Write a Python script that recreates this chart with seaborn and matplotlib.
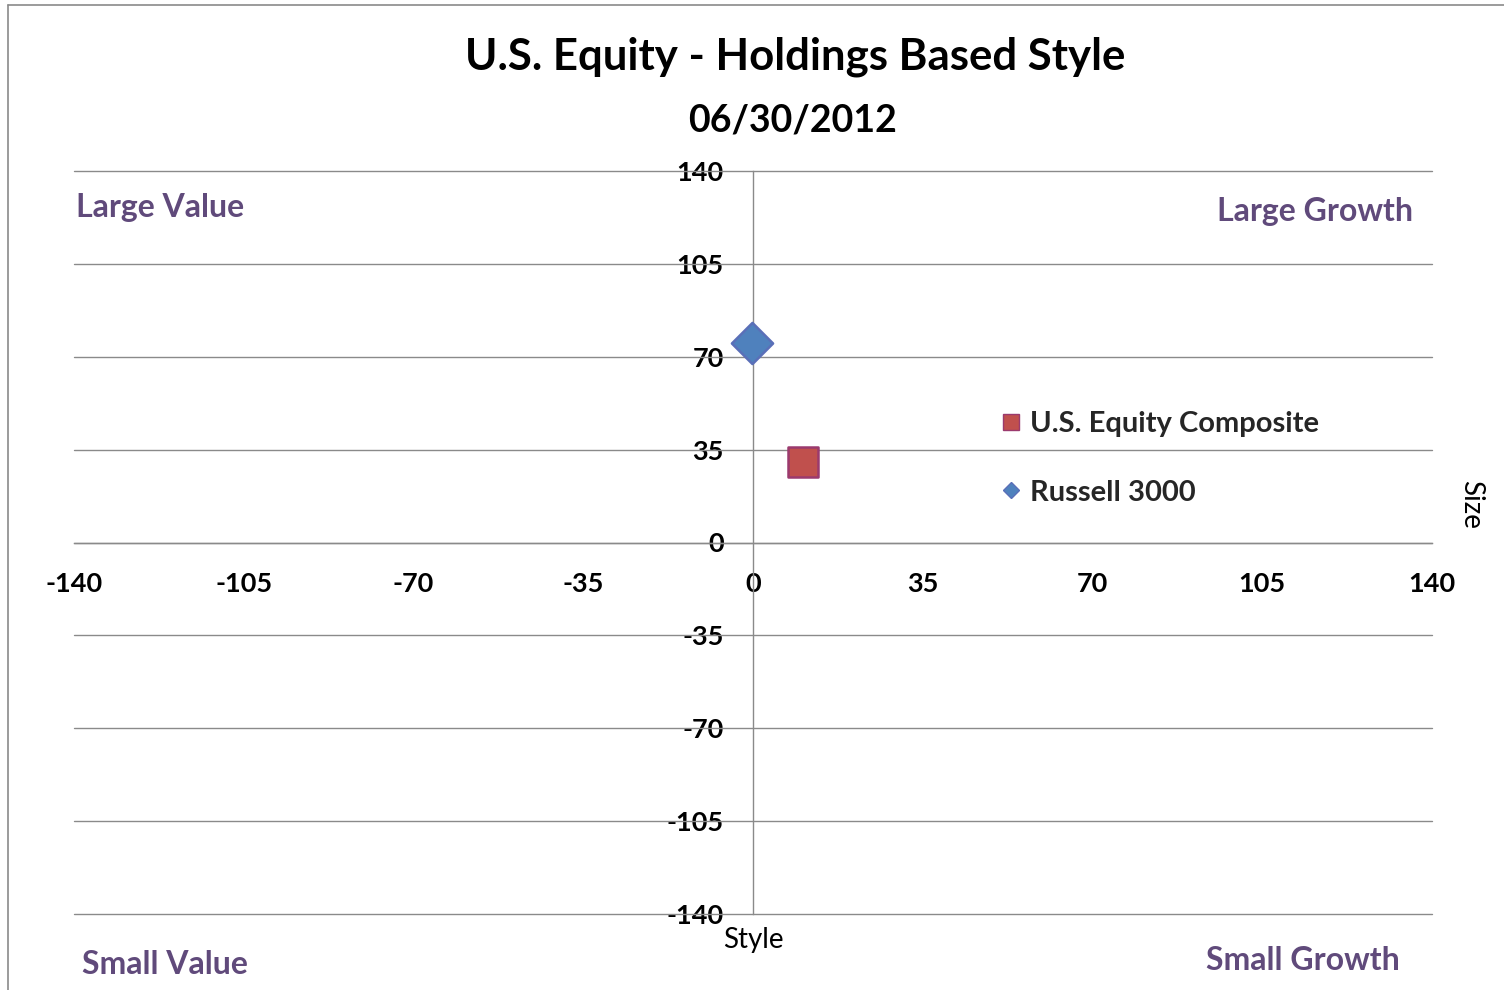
import matplotlib
matplotlib.use("Agg")
import matplotlib.pyplot as plt
import seaborn as sns
import pandas as pd
from matplotlib.lines import Line2D

# ---- data ----
series_names = ["U.S. Equity Composite", "Russell 3000"]
style_values = [10.3, -0.3]
size_values = [30.2, 75.3]
x_ticks = [-140, -105, -70, -35, 0, 35, 70, 105, 140]
y_ticks = [-140, -105, -70, -35, 0, 35, 70, 105, 140]
title_text = "U.S. Equity - Holdings Based Style"
subtitle_text = "06/30/2012"
corner_labels = ["Large Value", "Large Growth", "Small Value", "Small Growth"]

df = pd.DataFrame({"Series": series_names, "Style": style_values, "Size": size_values})

sns.set_theme(style="white")
FONT = ["Lato", "DejaVu Sans"]
plt.rcParams["font.family"] = FONT

fig = plt.figure(figsize=(15.04, 9.9), dpi=100)
ax = fig.add_axes([74 / 1504, 1 - 914 / 990, (1432 - 74) / 1504, (914 - 171) / 990])

fills = {"U.S. Equity Composite": "#C0504D", "Russell 3000": "#4F81BD"}
edges = {"U.S. Equity Composite": "#9B3A6E", "Russell 3000": "#5A6FB8"}
markers = {"U.S. Equity Composite": "s", "Russell 3000": "D"}

for name in series_names:
    sub = df[df["Series"] == name]
    sns.scatterplot(data=sub, x="Style", y="Size", marker=markers[name],
                    color=fills[name], edgecolor=edges[name], linewidth=1.8,
                    s=440, ax=ax, zorder=5, legend=False)

ax.set_xlim(-140, 140)
ax.set_ylim(-140, 140)
ax.set_xticks(x_ticks)
ax.set_yticks(y_ticks)
ax.set_xticklabels([str(v) for v in x_ticks])
ax.set_yticklabels([str(v) for v in y_ticks])

gridc = "#8A8A8A"
for v in y_ticks:
    ax.axhline(v, color=gridc, lw=1.0, zorder=1, clip_on=False)

for s in ["top", "right"]:
    ax.spines[s].set_visible(False)
ax.spines["left"].set_position(("data", 0))
ax.spines["bottom"].set_position(("data", 0))
ax.spines["left"].set_color(gridc)
ax.spines["bottom"].set_color(gridc)
ax.spines["left"].set_linewidth(1.0)
ax.spines["bottom"].set_linewidth(1.0)
ax.spines["left"].set_zorder(2)

ax.tick_params(axis="x", direction="out", length=6, width=1, color=gridc,
               pad=15, labelsize=19.5, labelcolor="black")
ax.tick_params(axis="y", length=0, pad=21, labelsize=19.5, labelcolor="black")
for lab in ax.get_xticklabels() + ax.get_yticklabels():
    lab.set_fontweight("bold")
ax.set_xlabel("")
ax.set_ylabel("")

# legend
handles = [
    Line2D([], [], marker="s", linestyle="none", markersize=11,
           markerfacecolor=fills["U.S. Equity Composite"],
           markeredgecolor=edges["U.S. Equity Composite"], markeredgewidth=1),
    Line2D([], [], marker="D", linestyle="none", markersize=8,
           markerfacecolor=fills["Russell 3000"],
           markeredgecolor=edges["Russell 3000"], markeredgewidth=1),
]
leg = ax.legend(handles, series_names, loc="upper left",
                bbox_to_anchor=(977 / 1504, 1 - 385 / 990), bbox_transform=fig.transFigure,
                frameon=False, handlelength=0.55, handletextpad=0.35, labelspacing=1.45,
                prop={"family": FONT, "weight": "bold", "size": 21})

# titles
fig.text(795 / 1504, 1 - 57 / 990, title_text, ha="center", va="center",
         fontsize=31.5, fontweight="bold", color="black")
fig.text(793 / 1504, 1 - 121 / 990, subtitle_text, ha="center", va="center",
         fontsize=27, fontweight="bold", color="black")

purple = "#604A7B"
fig.text(76 / 1504, 1 - 207 / 990, corner_labels[0], ha="left", va="center",
         fontsize=23, fontweight="bold", color=purple)
fig.text(1413 / 1504, 1 - 212 / 990, corner_labels[1], ha="right", va="center",
         fontsize=23, fontweight="bold", color=purple)
fig.text(82 / 1504, 1 - 964 / 990, corner_labels[2], ha="left", va="center",
         fontsize=23, fontweight="bold", color=purple)
fig.text(1400 / 1504, 1 - 960 / 990, corner_labels[3], ha="right", va="center",
         fontsize=23, fontweight="bold", color=purple)

fig.text(753 / 1504, 1 - 940 / 990, "Style", ha="center", va="center",
         fontsize=20, color="black")
fig.text(1471 / 1504, 1 - 505 / 990, "Size", ha="center", va="center",
         fontsize=20, color="black", rotation=270)

# outer chart border (left and top visible)
fig.add_artist(Line2D([8 / 1504, 8 / 1504], [0, 1 - 5 / 990], transform=fig.transFigure,
                      color="#8A8A8A", lw=1.2))
fig.add_artist(Line2D([8 / 1504, 1], [1 - 5 / 990, 1 - 5 / 990], transform=fig.transFigure,
                      color="#8A8A8A", lw=1.2))

fig.savefig("out.png", dpi=100, facecolor="white")
